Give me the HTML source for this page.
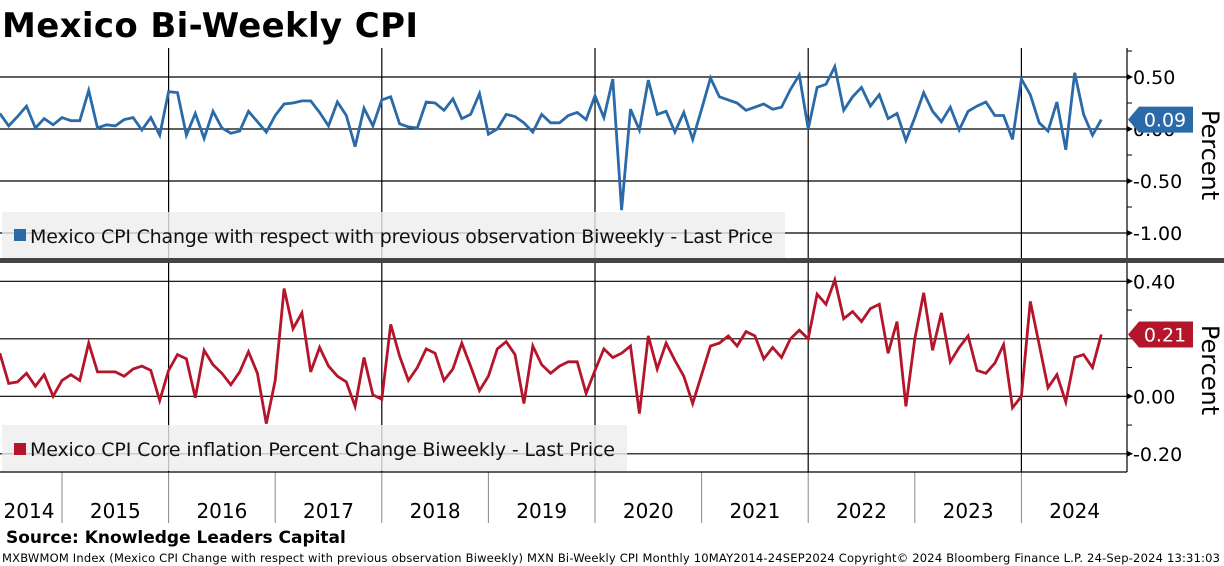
<!DOCTYPE html>
<html><head><meta charset="utf-8"><style>
html,body{margin:0;padding:0;background:#fff;}
svg{display:block;font-family:"DejaVu Sans","Liberation Sans",sans-serif;}
</style></head><body>
<svg id="c" width="1224" height="566" viewBox="0 0 1224 566" xmlns="http://www.w3.org/2000/svg">
<text x="2" y="37" font-size="34" font-weight="bold" fill="#000" textLength="416">Mexico Bi-Weekly CPI</text>
<g id="grid"></g>
<g id="series"></g>
<rect x="2" y="212" width="783" height="46" fill="#eeeeee" fill-opacity="0.8"/>
<rect x="14" y="229" width="12" height="12" fill="#2b6aa8"/>
<text x="30" y="243" font-size="19" fill="#111" textLength="743">Mexico CPI Change with respect with previous observation Biweekly - Last Price</text>
<rect x="2" y="425" width="625" height="46" fill="#eeeeee" fill-opacity="0.8"/>
<rect x="14" y="443" width="12" height="12" fill="#b5152b"/>
<text x="30" y="456" font-size="19" fill="#111" textLength="585">Mexico CPI Core inflation Percent Change Biweekly - Last Price</text>
<g id="overlay"></g>
<rect x="0" y="258" width="1224" height="5" fill="#444"/>
<text x="6" y="543" font-size="17" font-weight="bold" fill="#000">Source: Knowledge Leaders Capital</text>
<text x="2" y="562" font-size="11.5" fill="#000" textLength="1218">MXBWMOM Index (Mexico CPI Change with respect with previous observation Biweekly) MXN Bi-Weekly CPI  Monthly 10MAY2014-24SEP2024  Copyright© 2024 Bloomberg Finance L.P.  24-Sep-2024 13:31:03</text>
</svg>
<script>
const years = ["2014","2015","2016","2017","2018","2019","2020","2021","2022","2023","2024"];
const headlineValues = [0.15,0.03,0.12,0.22,0.01,0.10,0.04,0.11,0.08,0.08,0.37,0.01,0.04,0.03,0.09,0.11,-0.01,0.11,-0.06,0.36,
0.35,-0.06,0.15,-0.09,0.17,0.01,-0.04,-0.02,0.17,0.07,-0.03,0.13,0.24,0.25,0.27,0.27,0.16,0.03,0.26,0.13,-0.17,0.20,0.03,0.28,
0.31,0.05,0.02,0.01,0.26,0.25,0.18,0.29,0.10,0.14,0.34,-0.05,0.00,0.14,0.12,0.06,-0.03,0.14,0.06,0.06,0.13,0.16,0.09,0.32,
0.11,0.48,-0.78,0.19,-0.01,0.47,0.14,0.17,-0.03,0.16,-0.10,0.19,0.49,0.31,0.28,0.25,0.18,0.21,0.24,0.19,0.21,0.38,0.52,0.00,
0.40,0.43,0.60,0.18,0.31,0.40,0.22,0.33,0.10,0.15,-0.11,0.11,0.35,0.17,0.07,0.21,-0.01,0.17,0.22,0.26,0.13,0.13,-0.10,0.48,
0.33,0.06,-0.02,0.26,-0.20,0.54,0.14,-0.06,0.09];
const coreValues = [0.15,0.045,0.05,0.08,0.035,0.075,0.00,0.055,0.075,0.055,0.185,0.085,0.085,0.085,0.07,0.095,0.105,0.09,-0.015,0.09,
0.145,0.13,-0.005,0.16,0.11,0.08,0.04,0.085,0.155,0.08,-0.095,0.055,0.375,0.235,0.29,0.085,0.17,0.105,0.07,0.05,-0.035,0.135,0.005,-0.01,
0.25,0.14,0.055,0.10,0.165,0.15,0.055,0.095,0.185,0.105,0.02,0.07,0.165,0.19,0.145,-0.025,0.175,0.11,0.08,0.105,0.12,0.12,0.01,0.09,
0.165,0.135,0.15,0.175,-0.06,0.21,0.095,0.185,0.125,0.07,-0.025,0.075,0.175,0.185,0.21,0.175,0.225,0.21,0.13,0.17,0.135,0.20,0.23,0.20,
0.355,0.32,0.405,0.27,0.295,0.26,0.305,0.32,0.15,0.26,-0.035,0.20,0.36,0.16,0.29,0.12,0.17,0.21,0.09,0.08,0.115,0.18,-0.04,0.00,
0.33,0.18,0.03,0.075,-0.02,0.135,0.145,0.10,0.215];
const topTicks = [0.5,0,-0.5,-1.0];
const topTickLabels = ["0.50","0.00","-0.50","-1.00"];
const botTicks = [0.4,0.2,0,-0.2];
const botTickLabels = ["0.40","","0.00","-0.20"];

const NS="http://www.w3.org/2000/svg";
const AX=1127, MONTH=106.6/12;
const xIdx = i => 62 + (i-7)*MONTH;
const xYear = k => 62 + (k-1)*106.6;
const yTop = v => 129 - v*104;
const yBot = v => 396.3 - v*287.5;
function mk(tag, attrs, parent){const e=document.createElementNS(NS,tag);for(const k in attrs)e.setAttribute(k,attrs[k]);parent.appendChild(e);return e;}
const grid=document.getElementById('grid'), series=document.getElementById('series'), ov=document.getElementById('overlay');

for(let k=2;k<years.length;k+=2){
  const l=mk('line',{x1:xYear(k),x2:xYear(k),y1:48,y2:472,stroke:'#000','stroke-width':1.2},grid);
  
  
}
for(let k=1;k<years.length;k++){
  const l=mk('line',{x1:xYear(k),x2:xYear(k),y1:472,y2:523,stroke:'#888','stroke-width':1},grid);
  
  
}
years.forEach((y,k)=>{
  const cx = k===0 ? 29 : xYear(k)+53.3;
  const t=mk('text',{x:cx,y:518,'font-size':20,'text-anchor':'middle',fill:'#000'},grid);
  t.textContent=y;
  
  
});
const bb=mk('line',{x1:0,x2:AX,y1:472,y2:472,stroke:'#000','stroke-width':1.2},grid);


const ra=mk('line',{x1:AX,x2:AX,y1:48,y2:472,stroke:'#000','stroke-width':1.2},grid);



function axis(ticks, labels, yf, minorStep, lo, hi, name){
  ticks.forEach((v,i)=>{
    const y=yf(v);
    const g=mk('line',{x1:0,x2:AX,y1:y,y2:y,stroke:'#000','stroke-width':1.2},grid);
    
    
    if(labels[i]){
      const a=mk('polygon',{points:`${AX},${y-3} ${AX+6},${y} ${AX},${y+3}`,fill:'#000'},grid);
      
      
      const t=mk('text',{x:AX+6,y:y+7,'font-size':19,fill:'#000'},grid);
      t.textContent=labels[i];
      
      
    }
  });
  for(let v=lo; v<=hi+1e-9; v+=minorStep){
    const y=yf(v);
    const m=mk('line',{x1:AX,x2:AX+5,y1:y,y2:y,stroke:'#000','stroke-width':1},grid);
    
    
  }
}
axis(topTicks, topTickLabels, yTop, 0.25, -1.0, 0.75, 'top-y-axis');
axis(botTicks, botTickLabels, yBot, 0.1, -0.2, 0.4, 'bottom-y-axis');

function line(vals, yf, color, name){
  const d=vals.map((v,i)=>(i?'L':'M')+xIdx(i).toFixed(1)+','+yf(v).toFixed(1)).join(' ');
  const p=mk('path',{d:d,fill:'none',stroke:color,'stroke-width':2.8,'stroke-linejoin':'miter'},series);
  
  
}
line(headlineValues, yTop, '#2b6aa8', 'headline-cpi-line');
line(coreValues, yBot, '#b5152b', 'core-cpi-line');

function tag(v, yf, color, name){
  const y=yf(v);
  const p=mk('polygon',{points:`${AX+1},${y} ${AX+12},${y-13} ${AX+66},${y-13} ${AX+66},${y+13} ${AX+12},${y+13}`,fill:color},ov);
  
  
  const t=mk('text',{x:AX+38,y:y+7,'font-size':19,fill:'#fff','text-anchor':'middle'},ov);
  t.textContent=v.toFixed(2);
  
  
}
tag(headlineValues[headlineValues.length-1], yTop, '#2b6aa8', 'headline');
tag(coreValues[coreValues.length-1], yBot, '#b5152b', 'core');

function ptitle(cy, name){
  const t=mk('text',{x:1202,y:cy,'font-size':24,fill:'#000','text-anchor':'middle',transform:`rotate(90 1202 ${cy})`},ov);
  t.textContent='Percent';
  
  
}
ptitle(155,'top-y-axis-title');
ptitle(370,'bottom-y-axis-title');
</script>
</body></html>
